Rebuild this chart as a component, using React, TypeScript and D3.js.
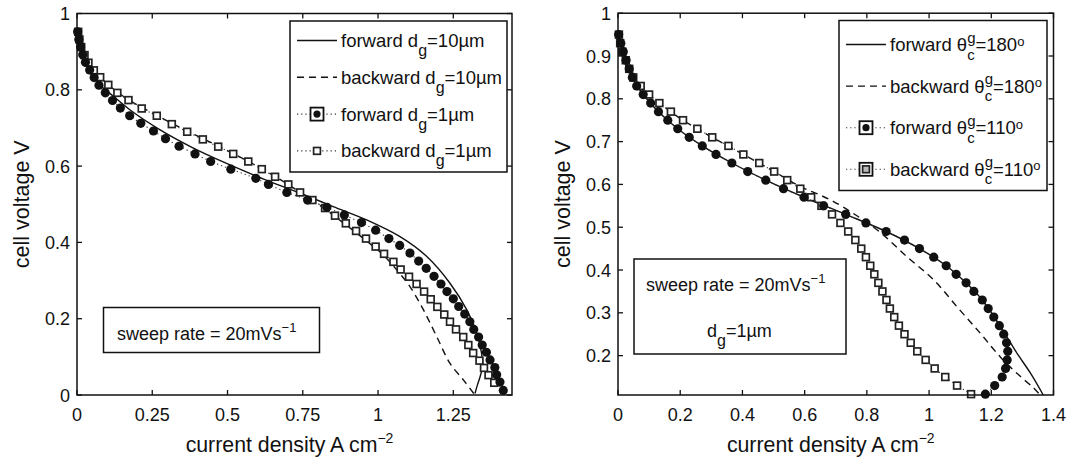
import React from "react";
import * as d3 from "d3";

const FONT = "'Liberation Sans', Arial, Helvetica, sans-serif";

// ---- left panel: gas diffusion layer pore size d_g ----
const leftXTicks = [0, 0.25, 0.5, 0.75, 1, 1.25];
const leftXLabels = ["0", "0.25", "0.5", "0.75", "1", "1.25"];
const leftYTicks = [0, 0.2, 0.4, 0.6, 0.8, 1];
const leftYLabels = ["0", "0.2", "0.4", "0.6", "0.8", "1"];

// [current density, cell voltage]
const leftFwd10: [number, number][] = [
  [0.0, 0.955], [0.005, 0.93], [0.015, 0.9], [0.03, 0.87], [0.05, 0.84], [0.08, 0.81],
  [0.121, 0.783], [0.18, 0.745], [0.276, 0.695], [0.38, 0.65], [0.497, 0.607], [0.62, 0.566],
  [0.741, 0.529], [0.851, 0.494], [0.962, 0.459], [1.073, 0.415], [1.162, 0.363], [1.239, 0.293],
  [1.295, 0.223], [1.328, 0.162], [1.344, 0.109], [1.347, 0.074], [1.339, 0.048], [1.33, 0.026],
  [1.322, 0.004],
];
const leftBwd10: [number, number][] = [
  [1.318, 0.004], [1.284, 0.039], [1.239, 0.083], [1.195, 0.153], [1.151, 0.223], [1.106, 0.284],
  [1.062, 0.328], [1.02, 0.365], [0.96, 0.405], [0.89, 0.448], [0.82, 0.49], [0.74, 0.532],
  [0.66, 0.572], [0.57, 0.612], [0.47, 0.652], [0.366, 0.692], [0.265, 0.733], [0.171, 0.774],
  [0.104, 0.813], [0.056, 0.852], [0.025, 0.892], [0.005, 0.94], [0.0, 0.955],
];
const leftFwd1: [number, number][] = [
  [0.002, 0.952], [0.006, 0.932], [0.012, 0.912], [0.019, 0.892], [0.028, 0.872], [0.042, 0.852],
  [0.057, 0.832], [0.073, 0.812], [0.094, 0.792], [0.118, 0.772], [0.144, 0.752], [0.175, 0.732],
  [0.212, 0.712], [0.254, 0.692], [0.294, 0.672], [0.339, 0.652], [0.392, 0.632], [0.444, 0.612],
  [0.511, 0.592], [0.594, 0.568], [0.636, 0.552], [0.697, 0.531], [0.766, 0.511], [0.83, 0.492],
  [0.888, 0.472], [0.945, 0.452], [0.992, 0.432], [1.036, 0.41], [1.072, 0.392], [1.106, 0.372],
  [1.135, 0.351], [1.16, 0.332], [1.186, 0.311], [1.209, 0.291], [1.229, 0.271], [1.25, 0.252],
  [1.268, 0.232], [1.288, 0.212], [1.305, 0.192], [1.318, 0.172], [1.334, 0.152], [1.346, 0.131],
  [1.36, 0.112], [1.372, 0.092], [1.388, 0.072], [1.394, 0.053], [1.405, 0.034], [1.416, 0.012],
];
const leftBwd1: [number, number][] = [
  [1.386, 0.032], [1.367, 0.052], [1.352, 0.071], [1.337, 0.09], [1.316, 0.11], [1.3, 0.131],
  [1.283, 0.152], [1.259, 0.172], [1.239, 0.192], [1.22, 0.211], [1.197, 0.231], [1.175, 0.251],
  [1.153, 0.271], [1.128, 0.291], [1.103, 0.31], [1.075, 0.329], [1.051, 0.349], [1.02, 0.37],
  [0.992, 0.389], [0.96, 0.41], [0.927, 0.43], [0.893, 0.45], [0.857, 0.47], [0.824, 0.49],
  [0.782, 0.511], [0.741, 0.531], [0.702, 0.552], [0.658, 0.572], [0.614, 0.592], [0.569, 0.612],
  [0.519, 0.632], [0.469, 0.651], [0.418, 0.67], [0.366, 0.69], [0.315, 0.71], [0.265, 0.732],
  [0.215, 0.751], [0.171, 0.773], [0.134, 0.792], [0.104, 0.813], [0.077, 0.833], [0.056, 0.851],
  [0.038, 0.871], [0.025, 0.891], [0.014, 0.912], [0.008, 0.932], [0.004, 0.952],
];

// ---- right panel: contact angle theta_c^g ----
const rightXTicks = [0, 0.2, 0.4, 0.6, 0.8, 1, 1.2, 1.4];
const rightXLabels = ["0", "0.2", "0.4", "0.6", "0.8", "1", "1.2", "1.4"];
const rightYTicks = [0.2, 0.3, 0.4, 0.5, 0.6, 0.7, 0.8, 0.9, 1];
const rightYLabels = ["0.2", "0.3", "0.4", "0.5", "0.6", "0.7", "0.8", "0.9", "1"];

const rightFwd180: [number, number][] = [
  [0, 0.955], [0.009, 0.93], [0.026, 0.89], [0.046, 0.85], [0.081, 0.81], [0.13, 0.77],
  [0.192, 0.73], [0.271, 0.69], [0.366, 0.65], [0.475, 0.61], [0.598, 0.57], [0.732, 0.53],
  [0.862, 0.49], [0.969, 0.45], [1.055, 0.41], [1.119, 0.37], [1.171, 0.33], [1.21, 0.29],
  [1.232, 0.265], [1.26, 0.232], [1.283, 0.205], [1.326, 0.159], [1.367, 0.108],
];
const rightBwd180: [number, number][] = [
  [1.352, 0.112], [1.337, 0.124], [1.294, 0.151], [1.229, 0.197], [1.165, 0.252], [1.09, 0.314],
  [1.015, 0.377], [0.929, 0.431], [0.843, 0.488], [0.757, 0.532], [0.693, 0.56], [0.65, 0.575],
  [0.586, 0.595], [0.502, 0.63], [0.403, 0.67], [0.303, 0.71], [0.209, 0.75], [0.133, 0.79],
  [0.073, 0.83], [0.036, 0.87], [0.014, 0.91], [0.003, 0.95],
];
const rightFwd110: [number, number][] = [
  [0.002, 0.95], [0.009, 0.93], [0.017, 0.91], [0.026, 0.89], [0.036, 0.87], [0.046, 0.85],
  [0.06, 0.83], [0.081, 0.81], [0.105, 0.79], [0.13, 0.77], [0.16, 0.75], [0.192, 0.73],
  [0.229, 0.71], [0.271, 0.69], [0.315, 0.67], [0.366, 0.65], [0.417, 0.63], [0.475, 0.61],
  [0.532, 0.59], [0.598, 0.57], [0.661, 0.55], [0.732, 0.53], [0.797, 0.51], [0.862, 0.49],
  [0.921, 0.47], [0.969, 0.45], [1.015, 0.43], [1.055, 0.41], [1.087, 0.39], [1.119, 0.37],
  [1.144, 0.35], [1.171, 0.33], [1.19, 0.31], [1.208, 0.29], [1.226, 0.27], [1.24, 0.25],
  [1.249, 0.23], [1.253, 0.21], [1.251, 0.19], [1.246, 0.17], [1.235, 0.15], [1.211, 0.13],
  [1.181, 0.11],
];
const rightBwd110: [number, number][] = [
  [1.135, 0.11], [1.09, 0.13], [1.052, 0.15], [1.018, 0.17], [0.989, 0.19], [0.962, 0.21],
  [0.941, 0.23], [0.921, 0.25], [0.903, 0.27], [0.888, 0.29], [0.874, 0.31], [0.863, 0.33],
  [0.85, 0.35], [0.837, 0.37], [0.824, 0.39], [0.811, 0.41], [0.797, 0.43], [0.782, 0.45],
  [0.763, 0.47], [0.74, 0.49], [0.715, 0.51], [0.688, 0.53], [0.654, 0.55], [0.621, 0.57],
  [0.586, 0.59], [0.544, 0.61], [0.502, 0.63], [0.454, 0.65], [0.403, 0.67], [0.355, 0.69],
  [0.303, 0.71], [0.255, 0.73], [0.209, 0.75], [0.17, 0.77], [0.133, 0.79], [0.1, 0.81],
  [0.073, 0.83], [0.049, 0.85], [0.036, 0.87], [0.025, 0.89], [0.014, 0.91], [0.007, 0.93],
  [0.003, 0.95],
];

const leftLegendWords = ["forward", "backward", "forward", "backward"];
const leftLegendValues = ["10µm", "10µm", "1µm", "1µm"];
const rightLegendWords = ["forward", "backward", "forward", "backward"];
const rightLegendValues = ["180", "180", "110", "110"];

type Kind = "solid" | "dashed" | "circle" | "square";

const Marker = ({ kind, cx, cy, boxed }: { kind: Kind; cx: number; cy: number; boxed?: boolean }) => (
  <g>
    {boxed && <rect x={cx - 6.5} y={cy - 6.5} width={13} height={13} fill="white" stroke="#111" strokeWidth={1.8} />}
    {kind === "circle" && <circle cx={cx} cy={cy} r={boxed ? 3.6 : 4.6} fill="#111" />}
    {kind === "square" && (
      <rect x={cx - 3.4} y={cy - 3.4} width={6.8} height={6.8} fill={boxed ? "#bbb" : "white"} stroke="#222" strokeWidth={1.7} />
    )}
  </g>
);

function Panel(props: any) {
  const { left, right, top, bottom, xDomain, yDomain, xTicks, xLabels, yTicks, yLabels, series, legend, note } = props;
  const x = d3.scaleLinear().domain(xDomain).range([left, right]);
  const y = d3.scaleLinear().domain(yDomain).range([bottom, top]);
  const smooth = d3.line<[number, number]>().x((d) => x(d[0])).y((d) => y(d[1])).curve(d3.curveCatmullRom.alpha(0.5));
  const straight = d3.line<[number, number]>().x((d) => x(d[0])).y((d) => y(d[1]));
  const tick = 5;

  return (
    <g fontFamily={FONT}>
      {series.map((s: any, i: number) => {
        if (s.kind === "solid") return <path key={i} d={smooth(s.data) || ""} fill="none" stroke="#111" strokeWidth={1.4} />;
        if (s.kind === "dashed")
          return <path key={i} d={smooth(s.data) || ""} fill="none" stroke="#111" strokeWidth={1.4} strokeDasharray="7,5" />;
        return (
          <g key={i}>
            <path d={straight(s.data) || ""} fill="none" stroke="#333" strokeWidth={1.1} strokeDasharray="1.2,3" />
            {s.data.map((d: [number, number], j: number) => (
              <Marker key={j} kind={s.kind} cx={x(d[0])} cy={y(d[1])} />
            ))}
          </g>
        );
      })}

      {/* axes box with inward ticks */}
      <rect x={left} y={top} width={right - left} height={bottom - top} fill="none" stroke="#111" strokeWidth={1.5} />
      {xTicks.map((t: number, i: number) => (
        <g key={"x" + i}>
          <line x1={x(t)} x2={x(t)} y1={bottom} y2={bottom - tick} stroke="#111" strokeWidth={1.3} />
          <line x1={x(t)} x2={x(t)} y1={top} y2={top + tick} stroke="#111" strokeWidth={1.3} />
          <text x={x(t)} y={bottom + 26} fontSize={18} textAnchor="middle" fill="#111">
            {xLabels[i]}
          </text>
        </g>
      ))}
      {yTicks.map((t: number, i: number) => (
        <g key={"y" + i}>
          <line x1={left} x2={left + tick} y1={y(t)} y2={y(t)} stroke="#111" strokeWidth={1.3} />
          <line x1={right} x2={right - tick} y1={y(t)} y2={y(t)} stroke="#111" strokeWidth={1.3} />
          <text x={left - 7} y={y(t) + 6.5} fontSize={18} textAnchor="end" fill="#111">
            {yLabels[i]}
          </text>
        </g>
      ))}

      <text x={(left + right) / 2 - 5} y={452} fontSize={21.3} textAnchor="middle" fill="#111">
        current density A cm<tspan dy={-9} fontSize={14}>−2</tspan>
      </text>
      <text
        transform={`translate(${left - 48.5},${(top + bottom) / 2}) rotate(-90)`}
        fontSize={21.5}
        textAnchor="middle"
        fill="#111"
      >
        cell voltage V
      </text>

      {/* legend */}
      <rect x={legend.x0} y={legend.y0} width={legend.x1 - legend.x0} height={legend.y1 - legend.y0} fill="white" stroke="#111" strokeWidth={1.5} />
      {legend.rows.map((r: any, i: number) => {
        const by = legend.base0 + i * legend.step;
        const ly = by - 6.5;
        const mid = (legend.lx0 + legend.lx1) / 2;
        return (
          <g key={"l" + i}>
            {r.kind === "solid" && <line x1={legend.lx0} x2={legend.lx1} y1={ly} y2={ly} stroke="#111" strokeWidth={1.4} />}
            {r.kind === "dashed" && (
              <line x1={legend.lx0} x2={legend.lx1} y1={ly} y2={ly} stroke="#111" strokeWidth={1.4} strokeDasharray="7,5" />
            )}
            {(r.kind === "circle" || r.kind === "square") && (
              <g>
                <line x1={legend.lx0} x2={legend.lx1} y1={ly} y2={ly} stroke="#333" strokeWidth={1.1} strokeDasharray="1.2,3" />
                <Marker kind={r.kind} cx={mid} cy={ly} boxed={r.boxed} />
              </g>
            )}
            <text x={legend.tx} y={by} fontSize={18.5} fill="#111">
              {r.label}
            </text>
          </g>
        );
      })}

      {/* annotation box */}
      <rect x={note.x0} y={note.y0} width={note.x1 - note.x0} height={note.y1 - note.y0} fill="white" stroke="#111" strokeWidth={1.5} />
      {note.lines}
    </g>
  );
}

const dgLabel = (word: string, val: string) => (
  <>
    {word} d<tspan dy={9} fontSize={16}>g</tspan>
    <tspan dy={-9}>={val}</tspan>
  </>
);

const thetaLabel = (word: string, val: string) => (
  <>
    {word} θ<tspan dy={-8.5} fontSize={15}>g</tspan>
    <tspan dx={-8.3} dy={17} fontSize={15}>c</tspan>
    <tspan dx={0.8} dy={-8.5}>={val}</tspan>
    <tspan dy={-5.5} fontSize={13}>o</tspan>
  </>
);

export default function App() {
  const leftKinds: Kind[] = ["solid", "dashed", "circle", "square"];
  const leftSeries = [
    { kind: "solid", data: leftFwd10 },
    { kind: "dashed", data: leftBwd10 },
    { kind: "square", data: leftBwd1 },
    { kind: "circle", data: leftFwd1 },
  ];
  const rightSeries = [
    { kind: "solid", data: rightFwd180 },
    { kind: "dashed", data: rightBwd180 },
    { kind: "square", data: rightBwd110 },
    { kind: "circle", data: rightFwd110 },
  ];

  const leftLegend = {
    x0: 290, x1: 507, y0: 21, y1: 172,
    lx0: 297, lx1: 337, tx: 341, base0: 47, step: 36.8,
    rows: leftLegendWords.map((w, i) => ({
      kind: leftKinds[i],
      boxed: i === 2,
      label: dgLabel(w, leftLegendValues[i]),
    })),
  };
  const rightLegend = {
    x0: 839, x1: 1047, y0: 20.5, y1: 190.5,
    lx0: 846, lx1: 886, tx: 890, base0: 51, step: 41.6,
    rows: rightLegendWords.map((w, i) => ({
      kind: leftKinds[i],
      boxed: i >= 2,
      label: thetaLabel(w, rightLegendValues[i]),
    })),
  };

  const leftNote = {
    x0: 103.5, x1: 319.5, y0: 307.5, y1: 352.5,
    lines: (
      <text x={117} y={340} fontSize={18} fill="#111">
        sweep rate = 20mVs<tspan dy={-8.5} fontSize={13}>−1</tspan>
      </text>
    ),
  };
  const rightNote = {
    x0: 634, x1: 846, y0: 259, y1: 354,
    lines: (
      <g>
        <text x={646} y={291} fontSize={18} fill="#111">
          sweep rate = 20mVs<tspan dy={-8.5} fontSize={13}>−1</tspan>
        </text>
        <text x={707} y={337} fontSize={18} fill="#111">
          d<tspan dy={9} fontSize={16}>g</tspan>
          <tspan dy={-9}>=1µm</tspan>
        </text>
      </g>
    ),
  };

  return (
    <svg
      width={1068}
      height={461}
      style={{ position: "absolute", left: 0, top: 0, background: "white" }}
    >
      <rect width={1068} height={461} fill="white" />
      <Panel
        left={77}
        right={512}
        top={13.5}
        bottom={395}
        xDomain={[0, 1.445]}
        yDomain={[0, 1]}
        xTicks={leftXTicks}
        xLabels={leftXLabels}
        yTicks={leftYTicks}
        yLabels={leftYLabels}
        series={leftSeries}
        legend={leftLegend}
        note={leftNote}
      />
      <Panel
        left={618}
        right={1053.5}
        top={13.2}
        bottom={395}
        xDomain={[0, 1.4]}
        yDomain={[0.108, 1]}
        xTicks={rightXTicks}
        xLabels={rightXLabels}
        yTicks={rightYTicks}
        yLabels={rightYLabels}
        series={rightSeries}
        legend={rightLegend}
        note={rightNote}
      />
    </svg>
  );
}
